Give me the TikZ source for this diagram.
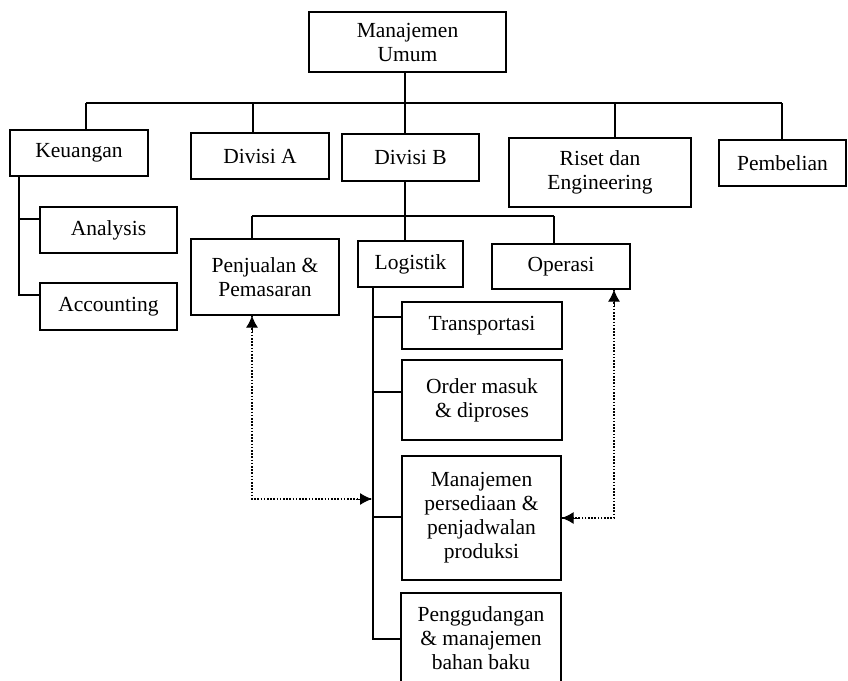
\documentclass[tikz,border=0pt]{standalone}
\usepackage{fontspec}
\setmainfont{Liberation Serif}
\usetikzlibrary{arrows.meta}
\begin{document}
\begin{tikzpicture}[x=1pt,y=-1pt,
  box/.style={draw, line width=1.3pt, inner sep=0pt, align=center, font=\fontsize{21.5}{24}\selectfont},
  conn/.style={line width=1.3pt},
  dotlink/.style={line width=1.1pt, dash pattern=on 1.6pt off 1.6pt},
  tiplink/.style={line width=1pt, solid, -{Latex[length=12pt,width=12pt]}}]
\useasboundingbox (0,0) rectangle (848,680);
% level 0
\node[box, minimum width=197pt, minimum height=60pt] (top) at (407.5,42) {Manajemen\\Umum};
% level 1
\node[box, minimum width=138pt, minimum height=46pt] (keu) at (79,153) {Keuangan};
\node[box, minimum width=138pt, minimum height=46pt] (diva) at (260,156) {Divisi A};
\node[box, minimum width=137pt, minimum height=47pt] (divb) at (410.5,157.5) {Divisi B};
\node[box, minimum width=182pt, minimum height=69pt] (riset) at (600,172.5) {Riset dan\\Engineering};
\node[box, minimum width=127pt, minimum height=46pt] (pemb) at (782.5,163) {Pembelian};
% keuangan children
\node[box, minimum width=137pt, minimum height=46pt] (anal) at (108.5,230) {Analysis};
\node[box, minimum width=137pt, minimum height=47pt] (acc) at (108.5,306.5) {Accounting};
% divisi B children
\node[box, minimum width=148pt, minimum height=76pt] (penj) at (265,277) {Penjualan \&\\Pemasaran};
\node[box, minimum width=105pt, minimum height=46pt] (log) at (410.5,264) {Logistik};
\node[box, minimum width=138pt, minimum height=45pt] (ops) at (561,266.5) {Operasi};
% logistik children
\node[box, minimum width=160pt, minimum height=47pt] (trans) at (482,325.5) {Transportasi};
\node[box, minimum width=160pt, minimum height=80pt] (order) at (482,400) {Order masuk\\\& diproses};
\node[box, minimum width=159pt, minimum height=124pt] (manper) at (481.5,518) {Manajemen\\persediaan \&\\penjadwalan\\produksi};
\node[box, minimum width=160pt, minimum height=90pt] (gud) at (481,638) {Penggudangan\\\& manajemen\\bahan baku};

% top bus
\coordinate (b1) at (86,103);
\coordinate (b2) at (253,103);
\coordinate (b3) at (405,103);
\coordinate (b4) at (615,103);
\coordinate (b5) at (782,103);
\draw[conn] (b1) -- (b5);
\draw[conn] (b3 |- top.south) -- (b3);
\draw[conn] (b1) -- (b1 |- keu.north);
\draw[conn] (b2) -- (b2 |- diva.north);
\draw[conn] (b3) -- (b3 |- divb.north);
\draw[conn] (b4) -- (b4 |- riset.north);
\draw[conn] (b5) -- (b5 |- pemb.north);

% keuangan
\coordinate (k1) at (19,219);
\coordinate (k2) at (19,295);
\draw[conn] (k2 |- keu.south) -- (k2) -- (k2 -| acc.west);
\draw[conn] (k1) -- (k1 -| anal.west);

% divisi B bus
\coordinate (c1) at (252,216);
\coordinate (c2) at (405,216);
\coordinate (c3) at (554,216);
\draw[conn] (c1) -- (c3);
\draw[conn] (c2 |- divb.south) -- (c2);
\draw[conn] (c1) -- (c1 |- penj.north);
\draw[conn] (c2) -- (c2 |- log.north);
\draw[conn] (c3) -- (c3 |- ops.north);

% logistik spine
\coordinate (l1) at (373,317);
\coordinate (l2) at (373,392);
\coordinate (l3) at (373,517);
\coordinate (l4) at (373,639);
\draw[conn] (l4 |- log.south) -- (l4) -- (l4 -| gud.west);
\draw[conn] (l1) -- (l1 -| trans.west);
\draw[conn] (l2) -- (l2 -| order.west);
\draw[conn] (l3) -- (l3 -| manper.west);

% dotted links
\coordinate (d1) at (252,499);
\coordinate (d1e) at (372,499);
\coordinate (d1t) at (252,332);
\coordinate (d1s) at (356,499);
\draw[dotlink] (d1 |- penj.south) -- (d1) -- (d1e);
\draw[tiplink] (d1t) -- (d1 |- penj.south);
\draw[tiplink] (d1s) -- (d1e);
\coordinate (d2) at (614,518);
\coordinate (d2t) at (614,306);
\coordinate (d2s) at (578,518);
\draw[dotlink] (d2 |- ops.south) -- (d2) -- (manper.east |- d2);
\draw[tiplink] (d2t) -- (d2 |- ops.south);
\draw[tiplink] (d2s) -- (manper.east |- d2);
\end{tikzpicture}
\end{document}
